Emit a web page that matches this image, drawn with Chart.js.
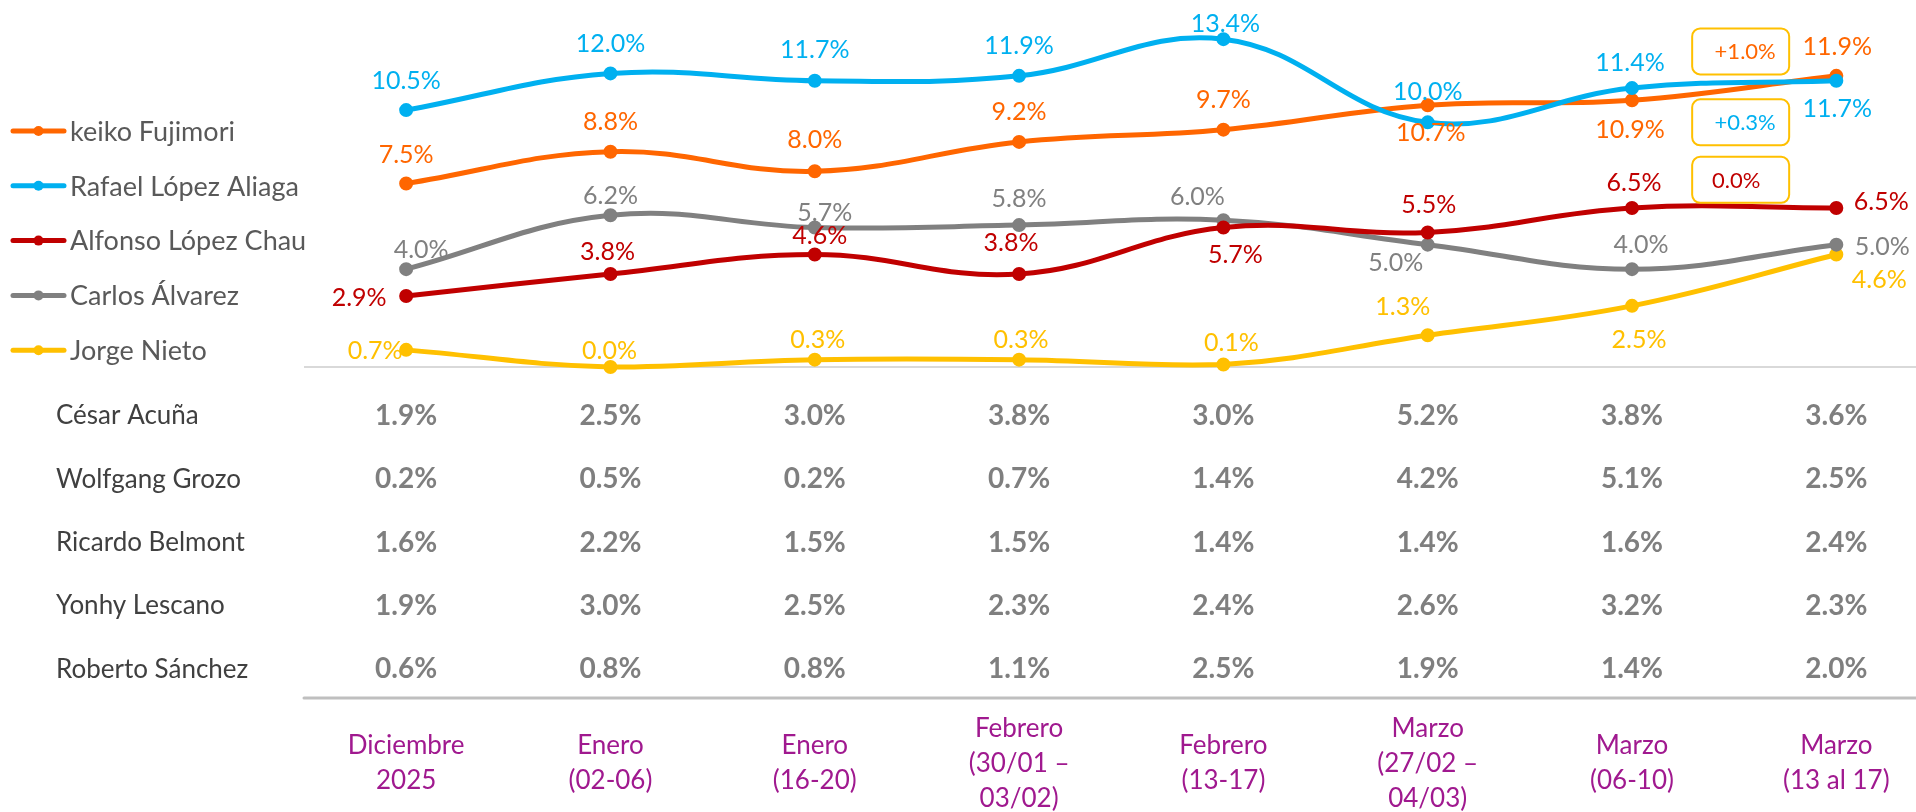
<!DOCTYPE html>
<html lang="es">
  <head>
    <meta charset="UTF-8" />
    <title>Intención de voto</title>
    <style>
      html,
      body {
        margin: 0;
        padding: 0;
        background: #fff;
      }
      #wrap {
        width: 1916px;
        height: 812px;
        position: relative;
      }
    </style>
  </head>
  <body>
    <div id="wrap"><canvas id="chart"></canvas></div>

    <script src="https://cdn.jsdelivr.net/npm/chart.js"></script>

    <script>
      // --- data ---
      const periods = [
        ["Diciembre", "2025"],
        ["Enero", "(02-06)"],
        ["Enero", "(16-20)"],
        ["Febrero", "(30/01 –", "03/02)"],
        ["Febrero", "(13-17)"],
        ["Marzo", "(27/02 –", "04/03)"],
        ["Marzo", "(06-10)"],
        ["Marzo", "(13 al 17)"],
      ];

      const lineNames = [
        "keiko Fujimori",
        "Rafael López Aliaga",
        "Alfonso López Chau",
        "Carlos Álvarez",
        "Jorge Nieto",
      ];
      const keiko = [7.5, 8.8, 8.0, 9.2, 9.7, 10.7, 10.9, 11.9];
      const rafael = [10.5, 12.0, 11.7, 11.9, 13.4, 10.0, 11.4, 11.7];
      const alfonso = [2.9, 3.8, 4.6, 3.8, 5.7, 5.5, 6.5, 6.5];
      const carlos = [4.0, 6.2, 5.7, 5.8, 6.0, 5.0, 4.0, 5.0];
      const jorge = [0.7, 0.0, 0.3, 0.3, 0.1, 1.3, 2.5, 4.6];

      const tableNames = [
        "César Acuña",
        "Wolfgang Grozo",
        "Ricardo Belmont",
        "Yonhy Lescano",
        "Roberto Sánchez",
      ];
      const acuna = [1.9, 2.5, 3.0, 3.8, 3.0, 5.2, 3.8, 3.6];
      const grozo = [0.2, 0.5, 0.2, 0.7, 1.4, 4.2, 5.1, 2.5];
      const belmont = [1.6, 2.2, 1.5, 1.5, 1.4, 1.4, 1.6, 2.4];
      const lescano = [1.9, 3.0, 2.5, 2.3, 2.4, 2.6, 3.2, 2.3];
      const sanchez = [0.6, 0.8, 0.8, 1.1, 2.5, 1.9, 1.4, 2.0];
      const tableRows = [acuna, grozo, belmont, lescano, sanchez];

      // --- styling ---
      const colors = ["#FF6600", "#00B0F0", "#C00000", "#808080", "#FFC000"];
      const drawOrder = [2, 1, 3, 4, 5]; // blue over orange, red over grey
      const FONT = "Lato, 'Open Sans', sans-serif";

      // label offset [dx, dy] from each point, per series
      const labelOffsets = [
        [[0, -30], [0, -31], [0, -32], [0, -31], [0, -31], [3, 27], [-2, 29], [1, -30]],
        [[0, -30], [0, -30], [0, -32], [0, -31], [2, -16], [0, -31], [-2, -26], [1, 27]],
        [[-47, 1], [-3, -23], [5, -19], [-8, -32], [12, 26], [1, -28], [2, -26], [45, -7]],
        [[15, -20], [0, -20], [10, -16], [0, -27], [-26, -24], [-32, 17], [9, -25], [46, 1]],
        [[-31, 0], [-1, -17], [3, -21], [2, -21], [8, -23], [-25, -29], [7, 33], [43, 25]],
      ];
      // change boxes (last vs previous) for the first three series
      const boxCenters = [12.9, 10.0, 7.65];

      const series = [keiko, rafael, alfonso, carlos, jorge];

      function pct(v) {
        return v.toFixed(1) + "%";
      }

      function text(ctx, str, x, cy, size, color, weight, align) {
        ctx.font = (weight || "normal") + " " + size + "px " + FONT;
        ctx.fillStyle = color;
        ctx.textAlign = align || "center";
        ctx.textBaseline = "alphabetic";
        ctx.fillText(str, x, cy + size * 0.36);
      }

      const overlay = {
        id: "overlay",
        beforeDatasetsDraw(chart) {
          const ctx = chart.ctx;
          const area = chart.chartArea;
          ctx.save();
          ctx.strokeStyle = "#D9D9D9";
          ctx.lineWidth = 2;
          ctx.beginPath();
          ctx.moveTo(area.left, area.bottom);
          ctx.lineTo(area.right, area.bottom);
          ctx.stroke();
          ctx.restore();
        },
        afterDatasetsDraw(chart) {
          const ctx = chart.ctx;
          const xs = chart.scales.x;
          const ys = chart.scales.y;
          const area = chart.chartArea;
          ctx.save();

          // value labels on the lines
          series.forEach((vals, s) => {
            const meta = chart.getDatasetMeta(s);
            vals.forEach((v, i) => {
              const p = meta.data[i];
              const off = labelOffsets[s][i];
              text(ctx, pct(v), p.x + off[0], p.y + off[1], 25, colors[s]);
            });
          });

          // change boxes
          const bx = xs.getPixelForValue(6.5) + 6;
          boxCenters.forEach((val, s) => {
            const vals = series[s];
            const d = vals[vals.length - 1] - vals[vals.length - 2];
            const label = (d > 0.05 ? "+" : "") + d.toFixed(1) + "%";
            const cy = ys.getPixelForValue(val);
            ctx.strokeStyle = "#FFC000";
            ctx.lineWidth = 2;
            ctx.beginPath();
            ctx.roundRect(bx - 48, cy - 23, 97, 46, 8);
            ctx.stroke();
            text(ctx, label, bx + (d > 0.05 ? 5 : -4), cy, 22, colors[s]);
          });

          // legend on the left
          lineNames.forEach((name, s) => {
            const cy = 131 + s * 54.8;
            ctx.strokeStyle = colors[s];
            ctx.lineWidth = 5;
            ctx.lineCap = "round";
            ctx.beginPath();
            ctx.moveTo(13, cy);
            ctx.lineTo(64, cy);
            ctx.stroke();
            ctx.fillStyle = colors[s];
            ctx.beginPath();
            ctx.arc(38.5, cy, 5, 0, Math.PI * 2);
            ctx.fill();
            text(ctx, name, 70, cy, 27, "#595959", "normal", "left");
          });

          // table of other candidates
          tableNames.forEach((name, r) => {
            const cy = 415 + r * 63.3;
            text(ctx, name, 56, cy, 26, "#404040", "normal", "left");
            tableRows[r].forEach((v, i) => {
              text(ctx, pct(v), xs.getPixelForValue(i), cy, 28, "#7F7F7F", "bold");
            });
          });

          // divider
          ctx.strokeStyle = "#BFBFBF";
          ctx.lineWidth = 3;
          ctx.beginPath();
          ctx.moveTo(area.left, 698);
          ctx.lineTo(area.right, 698);
          ctx.stroke();

          // period labels
          periods.forEach((lines, i) => {
            const x = xs.getPixelForValue(i);
            const top = 762.5 - ((lines.length - 1) * 35) / 2;
            lines.forEach((ln, k) => {
              text(ctx, ln, x, top + k * 35, 26, "#A0198F");
            });
          });

          ctx.restore();
        },
      };

      new Chart("chart", {
        type: "line",
        data: {
          datasets: series.map((vals, s) => ({
            label: lineNames[s],
            data: vals.map((v, i) => ({ x: i, y: v })),
            borderColor: colors[s],
            backgroundColor: colors[s],
            pointBackgroundColor: colors[s],
            pointBorderColor: colors[s],
            pointRadius: 4.5,
            borderWidth: 5,
            tension: 0.4,
            clip: false,
            order: drawOrder[s],
          })),
        },
        options: {
          responsive: true,
          maintainAspectRatio: false,
          animation: false,
          events: [],
          layout: {
            autoPadding: false,
            padding: { left: 304, right: 0, top: 0, bottom: 445 },
          },
          plugins: { legend: { display: false }, tooltip: { enabled: false } },
          scales: {
            x: { type: "linear", min: -0.5, max: 7.39, display: false },
            y: { min: 0, max: 15, display: false },
          },
        },
        plugins: [overlay],
      });
    </script>
  </body>
</html>
